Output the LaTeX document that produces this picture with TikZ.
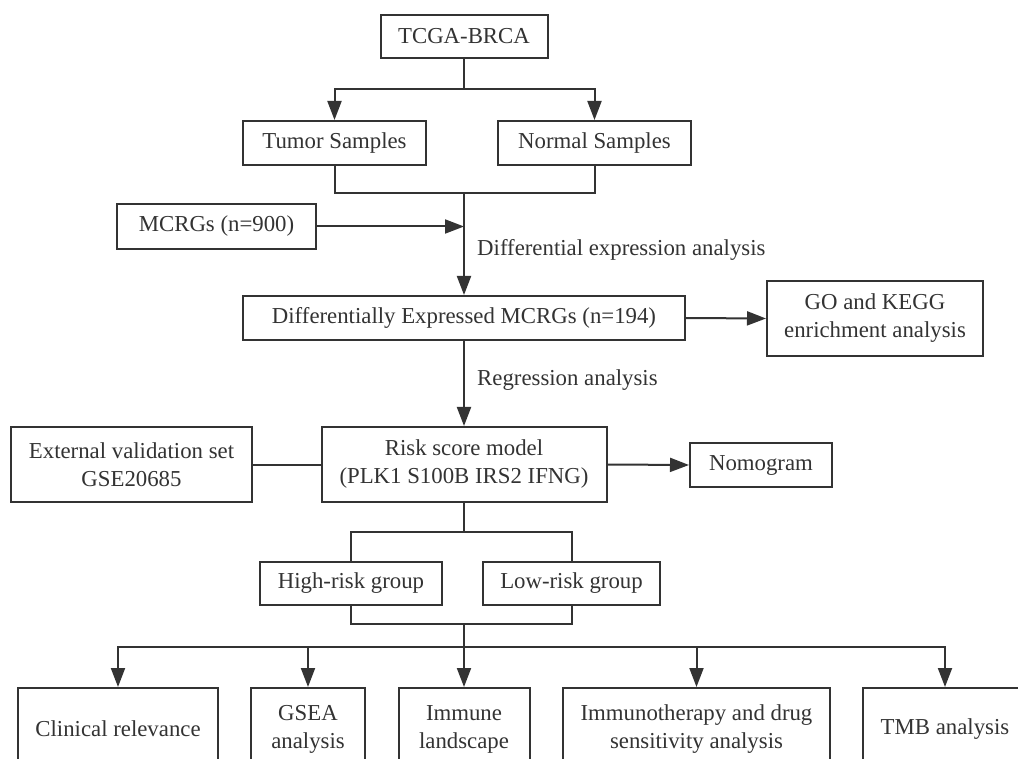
\documentclass[tikz,border=0pt]{standalone}
\usepackage{fontspec}
\setmainfont{Liberation Serif}
\usetikzlibrary{arrows.meta}
\definecolor{ink}{HTML}{333333}
\tikzset{
  box/.style={draw=ink, line width=2pt, text=ink, inner sep=0pt, align=center,
    font=\fontsize{22.8}{28}\selectfont, fill=white},
  lbl/.style={text=ink, anchor=west, inner sep=0pt, font=\fontsize{22.8}{28}\selectfont},
  conn/.style={draw=ink, line width=2pt},
  arr/.style={conn, -{Triangle[length=19pt,width=14pt]}}
}
\begin{document}
\begin{tikzpicture}[x=1pt,y=1pt]
\useasboundingbox (0,0) rectangle (1018,-759);
\clip (0,0) rectangle (1018,-759);
% nodes
\node[box, minimum width=167pt, minimum height=43pt] (tcga) at (464,-36.5) {TCGA-BRCA};
\node[box, minimum width=183pt, minimum height=44pt] (tumor) at (334.5,-143) {Tumor Samples};
\node[box, minimum width=193pt, minimum height=44pt] (normal) at (594.5,-143) {Normal Samples};
\node[box, minimum width=199pt, minimum height=45pt] (mcrg) at (216.5,-226.5) {MCRGs (n=900)};
\node[box, minimum width=442pt, minimum height=44pt] (diff) at (464,-318) {Differentially Expressed MCRGs (n=194)};
\node[box, minimum width=216pt, minimum height=75pt] (go) at (875,-318.5) {GO and KEGG\\enrichment analysis};
\node[box, minimum width=285pt, minimum height=75pt] (risk) at (464,-464.5) {Risk score model\\(PLK1 S100B IRS2 IFNG)};
\node[box, minimum width=241pt, minimum height=75pt] (ext) at (131.5,-464.5) {External validation set\\GSE20685};
\node[box, minimum width=142pt, minimum height=44pt] (nomo) at (761,-465) {Nomogram};
\node[box, minimum width=182pt, minimum height=43pt] (high) at (351,-583.5) {High-risk group};
\node[box, minimum width=177pt, minimum height=43pt] (low) at (571.5,-583.5) {Low-risk group};
\node[box, minimum width=200pt, minimum height=82pt] (clin) at (118,-729) {Clinical relevance};
\node[box, minimum width=114pt, minimum height=82pt] (gsea) at (308,-729) {GSEA\\analysis};
\node[box, minimum width=131pt, minimum height=82pt] (immune) at (464,-729) {Immune\\landscape};
\node[box, minimum width=267pt, minimum height=82pt] (immuno) at (696.5,-729) {Immunotherapy and drug\\sensitivity analysis};
\node[box, minimum width=164pt, minimum height=82pt] (tmb) at (945,-729) {TMB analysis};
% labels
\node[lbl] (lab1) at (477,-250) {Differential expression analysis};
\node[lbl] (lab2) at (477,-380) {Regression analysis};
% junctions
\coordinate (j1) at (464,-89);
\coordinate (j2) at (464,-193);
\coordinate (j3) at (464,-532);
\coordinate (j4) at (464,-624);
\coordinate (j5) at (464,-647);
% connectors
\draw[conn] (tcga.south) -- (j1);
\draw[arr] (j1) -| (tumor.north);
\draw[arr] (j1) -| (normal.north);
\draw[conn] (tumor.south) |- (normal.south |- j2) -- (normal.south);
\draw[arr] (j2) -- (diff.north);
\draw[arr] (mcrg.east) -- (mcrg.east -| diff.north);
\draw[arr] (diff.east) -- (go.west);
\draw[arr] (diff.south) -- (risk.north);
\draw[conn] (ext.east) -- (risk.west);
\draw[arr] (risk.east) -- (nomo.west);
\draw[conn] (risk.south) -- (j3);
\draw[conn] (j3) -| (high.north);
\draw[conn] (j3) -| (low.north);
\draw[conn] (high.south) |- (low.south |- j4) -- (low.south);
\draw[conn] (j4) -- (j5);
\draw[arr] (j5) -| (clin.north);
\draw[arr] (j5) -| (gsea.north);
\draw[arr] (j5) -- (immune.north);
\draw[arr] (j5) -| (immuno.north);
\draw[arr] (j5) -| (tmb.north);
\end{tikzpicture}
\end{document}
